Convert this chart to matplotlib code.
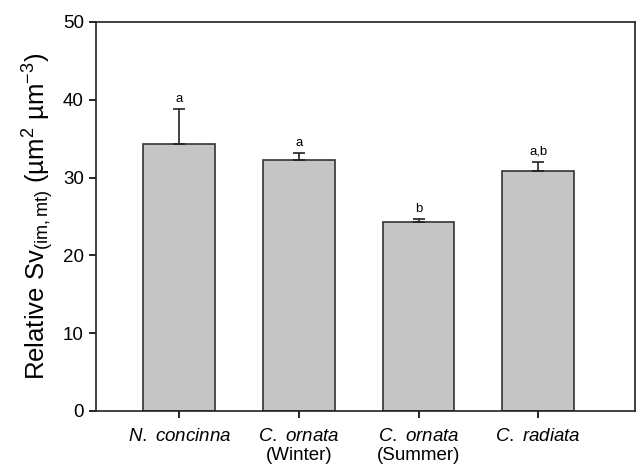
import numpy as np
import matplotlib
matplotlib.use("Agg")
from matplotlib import pyplot as plt

plt.rcParams['font.family'] = ['Liberation Sans', 'DejaVu Sans']
plt.rcParams['mathtext.fontset'] = 'custom'
plt.rcParams['mathtext.rm'] = 'Liberation Sans'
plt.rcParams['mathtext.it'] = 'Liberation Sans:italic'

species = ['N.\\ concinna', 'C.\\ ornata', 'C.\\ ornata', 'C.\\ radiata']
season = ['', '(Winter)', '(Summer)', '']
values = [34.3, 32.25, 24.25, 30.8]
errors = [4.5, 0.95, 0.4, 1.25]
letters = ['a', 'a', 'b', 'a,b']

fig = plt.figure(figsize=(6.37, 4.67), dpi=100)
ax = fig.add_axes([0.150, 0.120, 0.847, 0.833])

x = np.arange(len(species))
ax.bar(x, values, width=0.6, color='#c4c5c4', edgecolor='#333333', linewidth=1.2,
       yerr=[np.zeros(len(errors)), errors],
       error_kw=dict(ecolor='#222222', elinewidth=1.2, capsize=4.5, capthick=1.2))
for xi, v, e, t in zip(x, values, errors, letters):
    ax.text(xi, v + e + 0.5, t, ha='center', va='bottom', fontsize=9.5)

ax.set_xlim(-0.70, 3.81)
ax.set_ylim(0, 50)
ax.set_yticks([0, 10, 20, 30, 40, 50])
ax.set_xticks(x)
labels = []
for sp, se in zip(species, season):
    lab = '$\\mathit{' + sp + '}$'
    if se:
        lab += '\n' + se
    labels.append(lab)
ax.set_xticklabels(labels, fontsize=13.5, va='top')
ax.tick_params(axis='y', labelsize=13.5, length=5, width=1.2)
ax.tick_params(axis='x', length=5, width=1.2, pad=7)
for s in ax.spines.values():
    s.set_linewidth(1.2)
    s.set_color('#222222')

ax.set_ylabel('Relative Sv$_{\\mathrm{(im,mt)}}$ (\u00b5m$^{2}$ \u00b5m$^{-3}$)', fontsize=18.5, labelpad=5)

fig.savefig('out.png', dpi=100)
